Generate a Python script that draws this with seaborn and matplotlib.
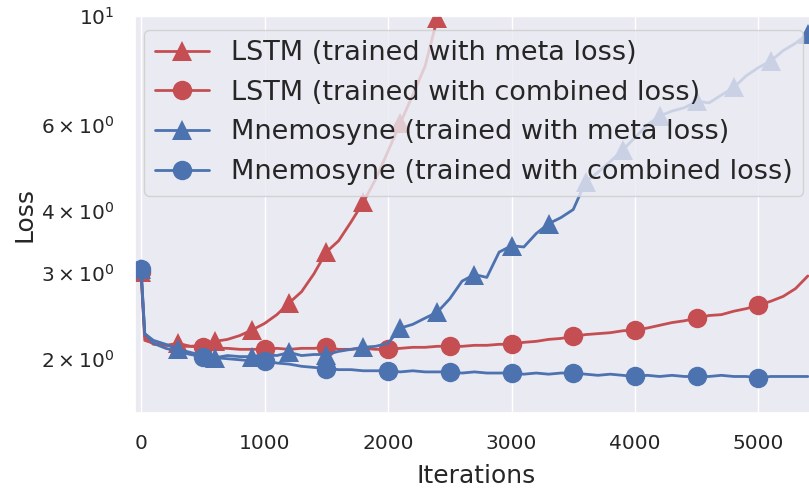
import matplotlib
matplotlib.use("Agg")
import matplotlib.pyplot as plt
import seaborn as sns
import numpy as np

# ---------------- data ----------------
iters_full = [0, 30] + list(range(100, 5401, 100))
iters_lstm_meta = [0, 30] + list(range(100, 2501, 100))

lstm_meta = [3.00, 2.22, 2.14, 2.13, 2.15, 2.12, 2.13, 2.17, 2.19, 2.23, 2.29,
             2.36, 2.46, 2.60, 2.74, 2.98, 3.30, 3.48, 3.80, 4.17, 4.65, 5.30,
             6.05, 6.90, 7.90, 9.90, 11.5]

lstm_comb = [3.00, 2.18, 2.15, 2.13, 2.12, 2.12, 2.11, 2.10, 2.10, 2.09, 2.09,
             2.09, 2.10, 2.09, 2.10, 2.10, 2.11, 2.09, 2.09, 2.10, 2.09, 2.09,
             2.10, 2.11, 2.11, 2.12, 2.12, 2.12, 2.13, 2.13, 2.14, 2.14, 2.16,
             2.17, 2.19, 2.20, 2.22, 2.24, 2.25, 2.26, 2.28, 2.29, 2.31, 2.34,
             2.37, 2.39, 2.42, 2.45, 2.46, 2.50, 2.53, 2.57, 2.62, 2.68, 2.78,
             2.95]

mnem_meta = [3.05, 2.25, 2.18, 2.14, 2.09, 2.06, 2.03, 2.01, 2.03, 2.02, 2.02,
             2.04, 2.03, 2.06, 2.03, 2.04, 2.04, 2.07, 2.09, 2.11, 2.12, 2.15,
             2.31, 2.35, 2.42, 2.49, 2.65, 2.88, 2.97, 2.93, 3.30, 3.40, 3.38,
             3.60, 3.77, 3.88, 4.03, 4.59, 4.80, 5.05, 5.33, 5.65, 6.00, 6.25,
             6.40, 6.50, 6.70, 6.65, 6.90, 7.15, 7.55, 7.85, 8.10, 8.50, 8.80,
             9.20]

mnem_comb = [3.05, 2.25, 2.15, 2.10, 2.07, 2.04, 2.02, 2.01, 2.00, 1.99, 1.98,
             1.98, 1.96, 1.95, 1.93, 1.92, 1.91, 1.90, 1.90, 1.89, 1.89, 1.89,
             1.88, 1.89, 1.88, 1.88, 1.88, 1.87, 1.88, 1.87, 1.87, 1.87, 1.86,
             1.87, 1.86, 1.87, 1.87, 1.86, 1.85, 1.86, 1.85, 1.84, 1.85, 1.84,
             1.85, 1.84, 1.84, 1.84, 1.85, 1.84, 1.84, 1.83, 1.84, 1.84, 1.84,
             1.84]

labels = ["LSTM (trained with meta loss)",
          "LSTM (trained with combined loss)",
          "Mnemosyne (trained with meta loss)",
          "Mnemosyne (trained with combined loss)"]

RED = "#C44E52"
BLUE = "#4C72B0"

# ---------------- plotting ----------------
sns.set_theme(style="darkgrid")
plt.rcParams["font.family"] = ["DejaVu Sans"]

fig = plt.figure(figsize=(8.09, 4.93), dpi=100)
ax = fig.add_axes([135 / 809, 80 / 493, 682 / 809, 397 / 493])


def mark_idx(xs, step):
    return [i for i, v in enumerate(xs) if v % step == 0]


series = [
    (iters_lstm_meta, lstm_meta, RED, "^", 300, labels[0]),
    (iters_full, lstm_comb, RED, "o", 500, labels[1]),
    (iters_full, mnem_meta, BLUE, "^", 300, labels[2]),
    (iters_full, mnem_comb, BLUE, "o", 500, labels[3]),
]

for xs, ys, col, mk, step, lab in series:
    sns.lineplot(x=xs, y=ys, ax=ax, color=col, marker=mk,
                 markevery=mark_idx(xs, step), markersize=14,
                 markeredgewidth=0, linewidth=2.0, label=lab)

ax.set_yscale("log")
ax.set_ylim(1.55, 10)
ax.set_xlim(-49, 5474)
ax.set_xticks([0, 1000, 2000, 3000, 4000, 5000])

ax.tick_params(axis="both", which="both", labelsize=14.5, pad=15, length=0)
ax.set_xlabel("Iterations", fontsize=18, labelpad=8)
ax.set_ylabel("Loss", fontsize=18, labelpad=3)

leg = ax.legend(loc="upper right", fontsize=19.5, labelspacing=0.5,
                borderaxespad=0.5, handlelength=2.0, markerscale=1.0)

fig.savefig("out.png", dpi=100)
